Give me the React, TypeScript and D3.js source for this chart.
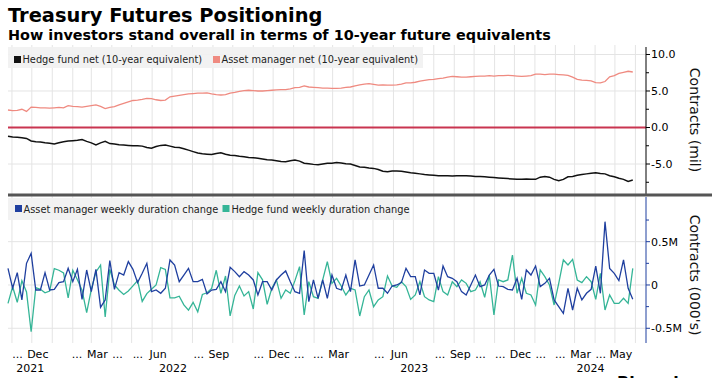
import React from 'react';
import * as d3 from 'd3';

// ---------- DATA ----------
const startDate = '2021-10-26';
const hedgeFundNet = [
  -1.2, -1.3, -1.35, -1.4, -1.5, -1.85, -1.95, -2.0, -2.1, -2.15,
  -2.25, -2.1, -1.95, -1.85, -1.8, -1.75, -1.65, -1.9, -2.1, -2.4,
  -2.1, -1.9, -2.2, -2.25, -2.35, -2.4, -2.45, -2.5, -2.5, -2.55,
  -2.75, -2.85, -2.6, -2.45, -2.4, -2.55, -2.7, -2.75, -2.9, -3.1,
  -3.3, -3.5, -3.6, -3.65, -3.7, -3.55, -3.45, -3.65, -3.8, -3.85,
  -3.95, -4.0, -4.1, -4.15, -4.2, -4.3, -4.4, -4.45, -4.55, -4.65,
  -4.7, -4.55, -4.45, -4.6, -4.9, -4.95, -5.05, -5.1, -5.0, -4.9,
  -4.9, -4.8, -4.85, -4.95, -5.0, -5.2, -5.4, -5.45, -5.55, -5.6,
  -5.75, -6.0, -6.05, -5.95, -5.95, -6.0, -6.1, -6.2, -6.25, -6.35,
  -6.45, -6.5, -6.55, -6.6, -6.6, -6.6, -6.65, -6.6, -6.6, -6.6,
  -6.65, -6.7, -6.7, -6.75, -6.8, -6.85, -6.9, -6.95, -7.0, -7.05,
  -7.1, -7.1, -7.05, -7.1, -7.1, -6.8, -6.7, -6.8, -7.1, -7.3,
  -7.1, -6.75, -6.7, -6.55, -6.45, -6.35, -6.25, -6.2, -6.3, -6.35,
  -6.6, -6.75, -6.95, -7.1, -7.4, -7.2,
];
const assetManagerNet = [
  2.4, 2.3, 2.35, 2.5, 2.2, 2.8, 2.75, 2.7, 2.7, 2.65,
  2.7, 2.75, 2.7, 3.0, 2.9, 2.85, 2.8, 2.9, 3.0, 3.1,
  2.9, 2.6, 2.75, 2.85, 3.1, 3.3, 3.5, 3.7, 3.75, 3.85,
  4.0, 3.95, 3.8, 3.7, 3.75, 4.2, 4.3, 4.4, 4.5, 4.6,
  4.65, 4.7, 4.7, 4.75, 4.6, 4.5, 4.45, 4.5, 4.7, 4.8,
  4.95, 5.05, 5.1, 5.05, 5.0, 5.0, 5.05, 5.1, 5.15, 5.2,
  5.2, 5.3, 5.45, 5.5, 5.7, 5.55, 5.5, 5.45, 5.4, 5.4,
  5.35, 5.35, 5.4, 5.5, 5.55, 5.7, 5.85, 5.95, 6.0, 5.9,
  5.8, 5.85, 5.8, 5.8, 5.85, 5.95, 6.1, 6.1, 6.2, 6.35,
  6.45, 6.55, 6.6, 6.7, 6.75, 6.9, 7.0, 6.95, 6.9, 6.9,
  6.95, 7.0, 7.05, 7.05, 7.1, 7.05, 7.1, 7.1, 7.15, 7.1,
  7.05, 7.0, 7.05, 7.1, 7.3, 7.3, 7.25, 7.3, 7.3, 7.25,
  7.2, 7.15, 6.9, 6.6, 6.5, 6.45, 6.4, 6.15, 6.1, 6.3,
  6.95, 7.1, 7.4, 7.55, 7.7, 7.6,
];
const assetManagerWeekly = [
  192, -38, 142, -173, 250, 366, -58, -58, 142, -58,
  -50, 27, 38, 192, 38, 181, -166, 173, -77, 181,
  -258, -173, 281, -50, 142, 115, 270, 181, 27, 135,
  250, -77, -58, -96, -38, 289, 231, 38, 115, 192,
  38, 38, 65, -104, -58, -50,
  38, -77, 204, 154, 96, 154, 115, 58, -115, 38,
  38, -58, 58, 115, 162, 38, -77, -96, 397, -193,
  58, -154, 58, -154, 115, -38, -58, 115, -77, 289,
  -12, 0, 115, 231, -38, -38, -96, -12, 0, 27,
  192, 96, 96, -115,
  173, 135, 135, -58, 219, 96, 77, 38, -77, -115,
  0, 115, -19, 0, 115, 181, -12, -19, -50, -58,
  77, -166, 173, 115, 219, -19, 19, 77, -173, -250,
  -327, -38, -289, -38, -173, -96, -50, 219, -96, 731,
  192, 135, 50, 289, -38, -166,
];
const hedgeFundWeekly = [
  -212, -20, -200, 50, -80, -540, -30, -50, -90, -70,
  190, 170, 140, -150, 170, 60, -60, -320, -50, 150,
  230, -370, 180, 0, -60, -110, -70, -10, 50, -190,
  -100, -50, 0, 200, 180, -150, -150, -130, -230, -290,
  -200, -310, -110, -90, -40, 170,
  -96, 104, -358, -120, -12, -127, -77, -277, 142, 60,
  -223, -38, 58, -154, -58, -96, 50, 212, -346, 38,
  -135, -154, 58, 270, 19, 77, -12, -115, -38, -58,
  -358, -135, -58, -250, -173, -135, 104, -12, -27, 38,
  -19, -166, -115, 38,
  -135, -173, -193, 96, -77, -115, 38, -19, 58, 19,
  -77, -58, 38, -142, 115, -346, 58, 38, 58, 346,
  -96, 77, -96, -115, -231, 173, 96, 0, -231, 19,
  289, 231, 296, 58, 27, 96, 38, -166, 135, -289,
  -115, -212, -212, -154, -212, 192,
];
const xTickMonths = ['2021-12-01', '2022-03-01', '2022-06-01', '2022-09-01', '2022-12-01', '2023-03-01', '2023-06-01', '2023-09-01', '2023-12-01', '2024-03-01', '2024-05-01'];
const xTickLabels = ['... Dec', '... Mar ...', '... Jun', '... Sep', '... Dec ...', '... Mar', '... Jun', '... Sep ...', '... Dec ...', '... Mar ...', 'May'];
const yearLabels = ['2021', '2022', '2023', '2024'];
const topTicks = [10, 5, 0, -5];
const topMinorTicks = [7.5, 2.5, -2.5, -7.5];
const bottomTicks = [500, 0, -500];
const bottomMinorTicks = [750, 250, -250];

const FONT = '"DejaVu Sans", Verdana, sans-serif';
const W = 712;
const H = 378;
const LEFT = 8;
const AXIS_X = 646;

const parse = d3.timeParse('%Y-%m-%d');
const start = parse(startDate) as Date;
const dates = hedgeFundNet.map((_, i) => d3.timeDay.offset(start, i * 7));

const x = d3.scaleTime().domain([start, parse('2024-06-17') as Date]).range([LEFT, AXIS_X]);
const yTop = d3.scaleLinear().domain([-8.97, 11.3]).range([193, 45]);
const yBot = d3.scaleLinear().domain([-670, 1016]).range([343, 197]);

const lineTop = d3.line<number>().x((_, i) => x(dates[i])).y((d) => yTop(d));
const lineBot = d3.line<number>().x((_, i) => x(dates[i])).y((d) => yBot(d));

const fmtTop = (v: number) => d3.format('.1f')(v).replace('−', '-');
const fmtBot = (v: number) => (v === 0 ? '0' : d3.format('.1f')(v / 1000).replace('−', '-') + 'M');

const COLORS = {
  hedge: '#111111',
  asset: '#ef8a80',
  zero: '#c93550',
  blue: '#1f3f9f',
  teal: '#35b597',
  grid: '#e4e4e4',
};

export default function App() {
  const months = d3.timeMonth.range(d3.timeMonth.ceil(x.domain()[0]), x.domain()[1]);
  const yearSpans = yearLabels.map((yl) => {
    const y0 = new Date(+yl, 0, 1);
    const y1 = new Date(+yl + 1, 0, 1);
    const a = Math.max(x(y0), LEFT);
    const b = Math.min(x(y1), AXIS_X);
    return { label: yl, cx: (a + b) / 2 };
  });

  return (
    <svg width={W} height={H} style={{ position: 'absolute', left: 0, top: 0, background: '#fff' }} fontFamily={FONT}>
      <rect x={0} y={0} width={W} height={H} fill="#fff" />
      {/* titles */}
      <text x={8} y={22} fontSize={19.4} fontWeight="bold" fill="#000">Treasury Futures Positioning</text>
      <text x={8} y={39.5} fontSize={14.4} fontWeight="bold" fill="#000">How investors stand overall in terms of 10-year future equivalents</text>

      {/* vertical month gridlines */}
      {months.map((m, i) => (
        <line key={'g' + i} x1={x(m)} x2={x(m)} y1={45} y2={343} stroke={COLORS.grid} strokeWidth={1} />
      ))}

      {/* horizontal gridlines */}
      {topTicks.filter((t) => t !== 0).map((t) => (
        <line key={'ht' + t} x1={LEFT} x2={AXIS_X} y1={yTop(t)} y2={yTop(t)} stroke={COLORS.grid} />
      ))}
      {bottomTicks.map((t) => (
        <line key={'hb' + t} x1={LEFT} x2={AXIS_X} y1={yBot(t)} y2={yBot(t)} stroke={COLORS.grid} />
      ))}

      {/* top legend */}
      <rect x={8} y={47} width={415} height={21} fill="#f1f1f1" opacity={0.92} />
      <rect x={14} y={56} width={7} height={7} fill={COLORS.hedge} />
      <text x={22.5} y={63} fontSize={9.8} fill="#222">Hedge fund net (10-year equivalent)</text>
      <rect x={213} y={56} width={7} height={7} fill={COLORS.asset} />
      <text x={221.5} y={63} fontSize={9.8} fill="#222">Asset manager net (10-year equivalent)</text>

      {/* zero line top */}
      <line x1={LEFT} x2={AXIS_X} y1={yTop(0)} y2={yTop(0)} stroke={COLORS.zero} strokeWidth={2} />

      {/* top lines */}
      <path d={lineTop(assetManagerNet) || ''} fill="none" stroke={COLORS.asset} strokeWidth={1.3} />
      <path d={lineTop(hedgeFundNet) || ''} fill="none" stroke={COLORS.hedge} strokeWidth={1.5} />

      {/* top axis */}
      <line x1={AXIS_X} x2={AXIS_X} y1={47} y2={194} stroke="#000" strokeWidth={1} />
      {topTicks.map((t) => (
        <g key={'tt' + t}>
          <line x1={AXIS_X} x2={AXIS_X + 4} y1={yTop(t)} y2={yTop(t)} stroke="#000" />
          <text x={AXIS_X + 5} y={yTop(t)} dy="0.35em" fontSize={11} fill="#000">{fmtTop(t)}</text>
        </g>
      ))}
      {topMinorTicks.map((t) => (
        <line key={'tm' + t} x1={AXIS_X} x2={AXIS_X + 3} y1={yTop(t)} y2={yTop(t)} stroke="#000" />
      ))}
      <text transform={`translate(695,120) rotate(90)`} textAnchor="middle" dy="0.35em" fontSize={14} fill="#111">Contracts (mil)</text>

      {/* separator */}
      <line x1={LEFT} x2={W} y1={195} y2={195} stroke="#555" strokeWidth={3} />

      {/* bottom legend */}
      <rect x={8} y={198} width={402} height={22} fill="#f1f1f1" opacity={0.92} />
      <rect x={15} y={205} width={7} height={7} fill={COLORS.blue} />
      <text x={23.5} y={213} fontSize={9.8} fill="#222">Asset manager weekly duration change</text>
      <rect x={222.5} y={205} width={7} height={7} fill={COLORS.teal} />
      <text x={231.5} y={213} fontSize={9.8} fill="#222">Hedge fund weekly duration change</text>

      {/* bottom lines */}
      <path d={lineBot(hedgeFundWeekly) || ''} fill="none" stroke={COLORS.teal} strokeWidth={1.3} />
      <path d={lineBot(assetManagerWeekly) || ''} fill="none" stroke={COLORS.blue} strokeWidth={1.3} />

      {/* bottom axis */}
      <line x1={AXIS_X} x2={AXIS_X} y1={197} y2={343} stroke={COLORS.blue} strokeWidth={1} />
      {bottomTicks.map((t) => (
        <g key={'bt' + t}>
          <line x1={AXIS_X} x2={AXIS_X + 4} y1={yBot(t)} y2={yBot(t)} stroke={COLORS.blue} />
          <text x={AXIS_X + 5} y={yBot(t)} dy="0.35em" fontSize={11} fill="#000">{fmtBot(t)}</text>
        </g>
      ))}
      {bottomMinorTicks.map((t) => (
        <line key={'bm' + t} x1={AXIS_X} x2={AXIS_X + 3} y1={yBot(t)} y2={yBot(t)} stroke={COLORS.blue} />
      ))}
      <text transform={`translate(695,275) rotate(90)`} textAnchor="middle" dy="0.35em" fontSize={14} fill="#111">Contracts (000's)</text>

      {/* x tick labels */}
      {xTickMonths.map((m, i) => {
        const lbl = xTickLabels[i];
        const pre = lbl.startsWith('... ');
        const post = lbl.endsWith(' ...');
        const word = lbl.replace(/^\.\.\. /, '').replace(/ \.\.\.$/, '');
        const cx = x(parse(m) as Date) + 6;
        return (
          <g key={'xl' + i} fontSize={11} fill="#000">
            {pre && <text x={cx - 15} y={358} textAnchor="end">...</text>}
            <text x={cx} y={358} textAnchor="middle">{word}</text>
            {post && <text x={cx + 15} y={358} textAnchor="start">...</text>}
          </g>
        );
      })}
      {yearSpans.map((ys) => (
        <text key={'y' + ys.label} x={ys.cx} y={372} textAnchor="middle" fontSize={11} fill="#000">{ys.label}</text>
      ))}

      <text x={617} y={388} fontSize={16} fontWeight="bold" fill="#000">Bloomberg</text>
    </svg>
  );
}
